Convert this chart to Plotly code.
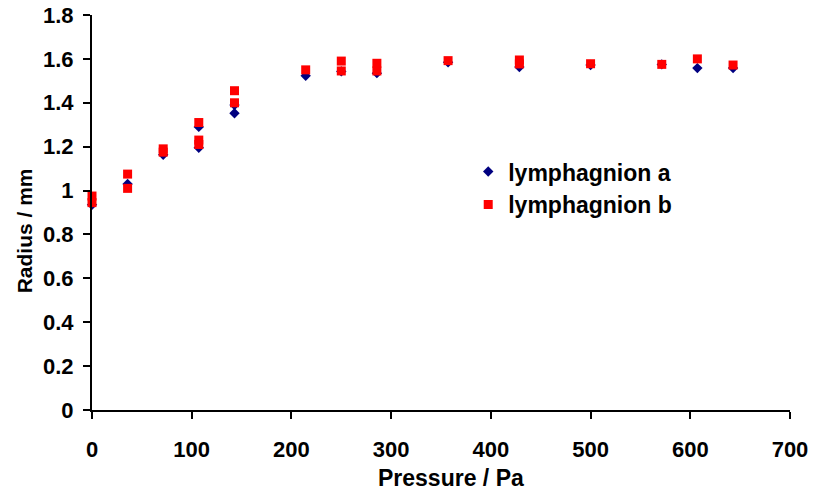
import plotly.graph_objects as go

# Pressure (Pa) and measured radius (mm) for the two lymphangion samples
pressure_a = [0, 35.7, 71.4, 107.1, 107.1, 142.9, 142.9, 214.3, 250, 285.7,
              357.1, 428.6, 500, 571.4, 607.1, 642.9]
radius_a = [0.935, 1.03, 1.163, 1.195, 1.29, 1.352, 1.39, 1.523, 1.543, 1.535,
            1.585, 1.563, 1.572, 1.575, 1.558, 1.558]

pressure_b = [0, 0, 35.7, 35.7, 71.4, 71.4, 107.1, 107.1, 107.1, 142.9, 142.9,
              214.3, 250, 250, 285.7, 285.7, 357.1, 428.6, 428.6, 500, 571.4,
              607.1, 642.9]
radius_b = [0.975, 0.945, 1.075, 1.01, 1.19, 1.175, 1.31, 1.23, 1.21, 1.455, 1.40,
            1.55, 1.59, 1.545, 1.58, 1.545, 1.592, 1.595, 1.577, 1.578, 1.575,
            1.60, 1.572]

series_names = ["lymphagnion a", "lymphagnion b"]
x_ticks = [0, 100, 200, 300, 400, 500, 600, 700]
y_ticks = [0, 0.2, 0.4, 0.6, 0.8, 1.0, 1.2, 1.4, 1.6, 1.8]
x_title = "Pressure / Pa"
y_title = "Radius / mm"

FONT = "Liberation Sans, Arial, sans-serif"

fig = go.Figure()
fig.add_trace(go.Scatter(
    x=pressure_a, y=radius_a, mode="markers", name=series_names[0],
    marker=dict(symbol="diamond", size=8, color="#000080"),
    cliponaxis=False,
))
fig.add_trace(go.Scatter(
    x=pressure_b, y=radius_b, mode="markers", name=series_names[1],
    marker=dict(symbol="square", size=9, color="#FF0000"),
    cliponaxis=False,
))

axis_common = dict(
    showgrid=False, zeroline=False, showline=True, linecolor="black",
    linewidth=2, ticks="outside", ticklen=7, tickwidth=2, tickcolor="black",
    automargin=False,
)

# Axis titles placed as annotations so their position can be set freely
fig.add_annotation(
    text=x_title, xref="paper", yref="paper", x=0.514, y=-0.172,
    xanchor="center", yanchor="middle", showarrow=False,
    font=dict(family=FONT, size=23, color="black", weight="bold"),
)
fig.add_annotation(
    text=y_title, xref="paper", yref="paper", x=-0.097, y=0.453,
    xanchor="center", yanchor="middle", showarrow=False, textangle=-90,
    font=dict(family=FONT, size=21, color="black", weight="bold"),
)

fig.update_layout(
    width=813, height=493,
    margin=dict(l=92, r=23, t=15, b=83),
    paper_bgcolor="white", plot_bgcolor="white",
    showlegend=True,
    legend=dict(
        x=0.539, y=0.658, xanchor="left", yanchor="top",
        font=dict(family=FONT, size=23, color="black", weight="bold"),
        bgcolor="rgba(0,0,0,0)",
        tracegroupgap=0,
    ),
    xaxis=dict(
        range=[0, 700], tickvals=x_ticks,
        tickfont=dict(family=FONT, size=22, color="black", weight="bold"),
        ticklabelstandoff=12,
        **axis_common,
    ),
    yaxis=dict(
        range=[0, 1.8], tickvals=y_ticks,
        tickfont=dict(family=FONT, size=22, color="black", weight="bold"),
        ticklabelstandoff=5,
        **axis_common,
    ),
)

fig.write_html("out.html")
